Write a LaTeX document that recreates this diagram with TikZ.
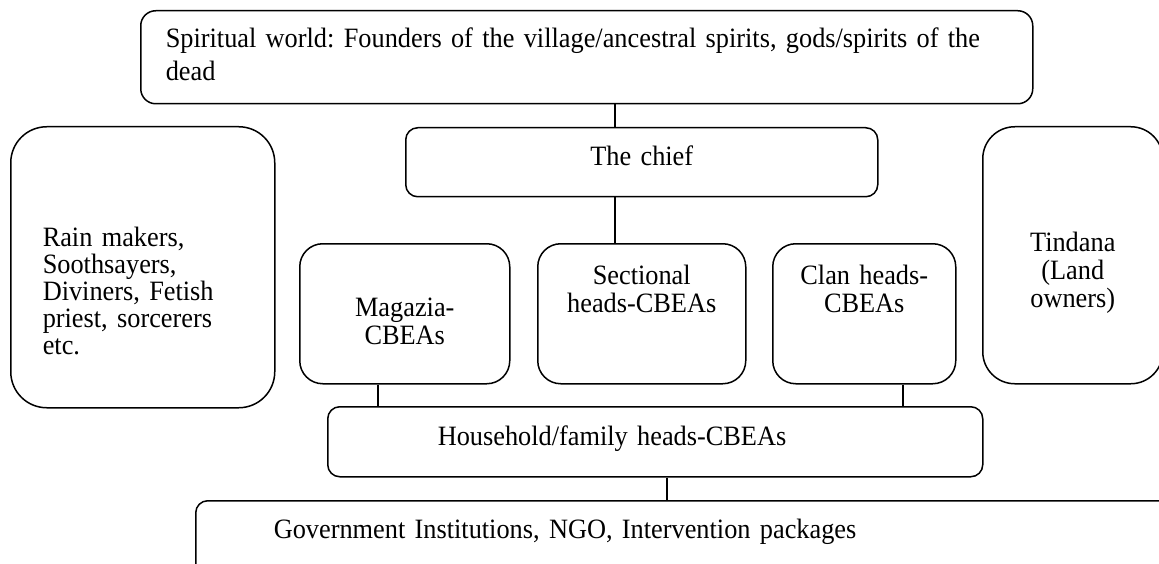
\documentclass[tikz,border=0pt]{standalone}
\usepackage{fontspec}
\setmainfont{Liberation Serif}[FakeStretch=0.94]
\frenchspacing
\tikzset{
	box/.style={draw, line width=1.5pt, inner xsep=0pt, inner ysep=0pt, anchor=north west, align=center},
	link/.style={line width=1.5pt},
}
\def\txt#1{\fontsize{28}{#1}\selectfont}

\begin{document}
\begin{tikzpicture}[x=1pt, y=-1pt]
	%%%%% START %%%%%
	\useasboundingbox (0,0) rectangle (1159,564);

	\node[box, rounded corners=15pt, text width=842pt, inner xsep=25pt, align=left, text height=37pt, text depth=56pt, font=\txt{33}] (spirit) at (140,10) {Spiritual world: Founders of the village/ancestral spirits, gods/spirits of the\\dead};

	\node[box, rounded corners=12pt, text width=472pt, text height=38pt, text depth=31pt, font=\txt{30}] (chief) at (405,127) {The chief};

	\node[box, rounded corners=36pt, text width=200pt, inner xsep=32pt, align=left, text height=120pt, text depth=161pt, font=\txt{27}] (healers) at (10,126) {Rain makers,\\Soothsayers,\\Diviners, Fetish\\priest, sorcerers\\etc.};

	\node[box, rounded corners=23pt, text width=210pt, text height=73pt, text depth=67pt, font=\txt{28}] (magazia) at (299,243) {Magazia-\\CBEAs};
	\node[box, rounded corners=23pt, text width=208pt, text height=41pt, text depth=99pt, font=\txt{28}] (section) at (537,243) {Sectional\\heads-CBEAs};
	\node[box, rounded corners=23pt, text width=183pt, text height=41pt, text depth=99pt, font=\txt{28}] (clan) at (772,243) {Clan heads-\\CBEAs};

	\node[box, rounded corners=32pt, text width=180pt, text height=125pt, text depth=132pt, font=\txt{28}] (tindana) at (982,126) {Tindana\\(Land\\owners)};

	\node[box, rounded corners=12pt, text width=435pt, inner xsep=110pt, align=left, text height=39pt, text depth=31pt, font=\txt{30}] (family) at (327,406) {Household/family heads-CBEAs};

	\node[box, rounded corners=12pt, text width=819pt, inner xsep=78pt, align=left, text height=38pt, text depth=42pt, font=\txt{30}] (govt) at (195,500) {Government Institutions, NGO, Intervention packages};

	% links
	\coordinate (x1) at (615,0);
	\coordinate (x2) at (378,0);
	\coordinate (x3) at (903,0);
	\coordinate (x4) at (667,0);

	\draw[link] (spirit.south -| x1) -- (chief.north -| x1);
	\draw[link] (chief.south -| x1) -- (section.north -| x1);
	\draw[link] (magazia.south -| x2) -- (family.north -| x2);
	\draw[link] (clan.south -| x3) -- (family.north -| x3);
	\draw[link] (family.south -| x4) -- (govt.north -| x4);

	%%%%% END %%%%%
\end{tikzpicture}
\end{document}
